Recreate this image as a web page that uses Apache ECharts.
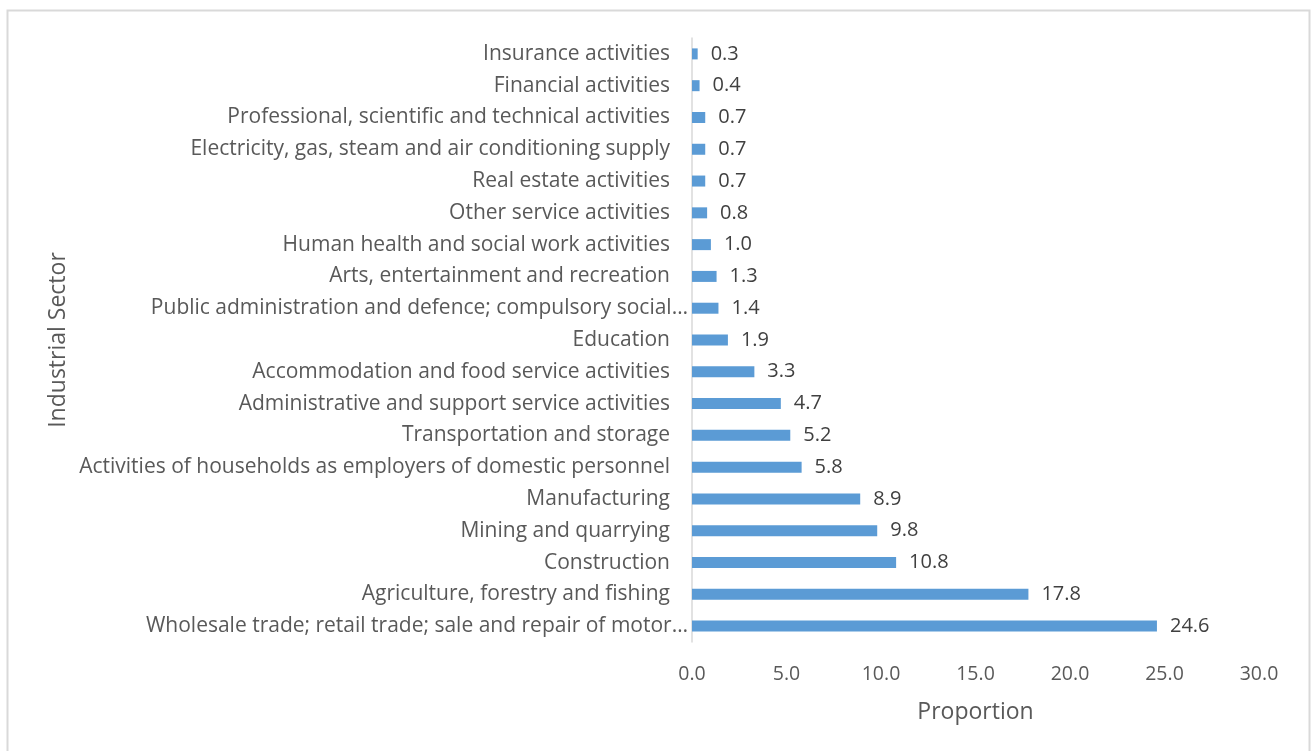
<!DOCTYPE html>
<html><head><meta charset="utf-8">
<script src="https://cdn.jsdelivr.net/npm/echarts@6/dist/echarts.min.js"></script>
<style>html,body{margin:0;padding:0;background:#fff}#c{width:1311px;height:751px}</style>
</head><body><div id="c"></div>
<script>
// categories listed bottom to top
const categories = [
  "Wholesale trade; retail trade; sale and repair of motor…",
  "Agriculture, forestry and fishing",
  "Construction",
  "Mining and quarrying",
  "Manufacturing",
  "Activities of households as employers of domestic personnel",
  "Transportation and storage",
  "Administrative and support service activities",
  "Accommodation and food service activities",
  "Education",
  "Public administration and defence; compulsory social…",
  "Arts, entertainment and recreation",
  "Human health and social work activities",
  "Other service activities",
  "Real estate activities",
  "Electricity, gas, steam and air conditioning supply",
  "Professional, scientific and technical activities",
  "Financial activities",
  "Insurance activities"
];
const proportion = [24.6, 17.8, 10.8, 9.8, 8.9, 5.8, 5.2, 4.7, 3.3, 1.9, 1.4, 1.3, 1.0, 0.8, 0.7, 0.7, 0.7, 0.4, 0.3];
const xTicks = {min: 0, max: 30, interval: 5};

const FONT = '"Open Sans"';
// truncated labels sit a little further right, as in the original
const catData = categories.map(c => c.endsWith('…')
  ? {value: c, textStyle: {padding: [0, -18, 0, 0]}}
  : c);
const chart = echarts.init(document.getElementById('c'), null, {renderer: 'canvas'});
chart.setOption({
  animation: false,
  backgroundColor: '#fff',
  graphic: [{
    type: 'rect', left: 5, top: 8,
    shape: {width: 1302, height: 760},
    style: {fill: 'none', stroke: '#d9d9d9', lineWidth: 2}
  }],
  grid: {left: 692, right: 52, top: 38, bottom: 109, containLabel: false},
  xAxis: {
    type: 'value', min: xTicks.min, max: xTicks.max, interval: xTicks.interval,
    name: 'Proportion', nameLocation: 'middle', nameGap: 59,
    nameTextStyle: {fontFamily: FONT, fontSize: 23, color: '#595959'},
    axisLine: {show: false}, axisTick: {show: false}, splitLine: {show: false},
    axisLabel: {fontFamily: FONT, fontSize: 19.5, color: '#595959', margin: 22,
      formatter: v => v.toFixed(1)}
  },
  yAxis: {
    type: 'category', data: catData,
    name: 'Industrial Sector', nameLocation: 'middle', nameGap: 622, nameRotate: 90,
    nameTextStyle: {fontFamily: FONT, fontSize: 23, color: '#595959'},
    axisLine: {show: true, lineStyle: {color: '#d9d9d9', width: 1.5}},
    axisTick: {show: false},
    axisLabel: {fontFamily: FONT, fontSize: 21, color: '#595959', margin: 22}
  },
  series: [{
    type: 'bar', data: proportion, barWidth: 11,
    itemStyle: {color: '#5B9BD5'},
    label: {show: true, position: 'right', distance: 13, fontFamily: FONT, fontSize: 20,
      color: '#404040', formatter: p => p.value.toFixed(1)}
  }]
});
</script></body></html>
